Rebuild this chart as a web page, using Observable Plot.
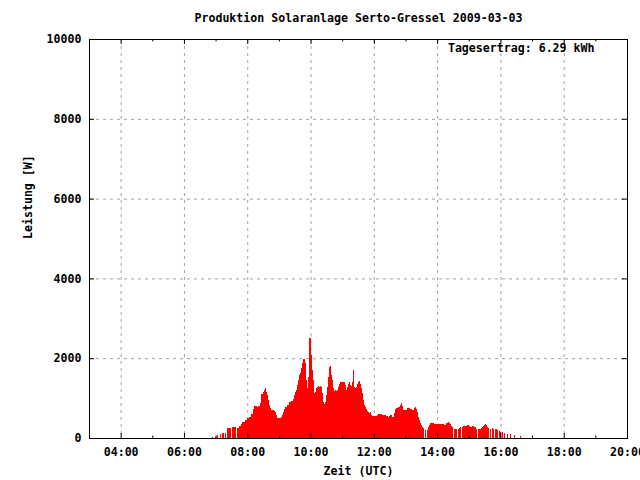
<!DOCTYPE html>
<html><head><meta charset="utf-8">
<script src="https://cdn.jsdelivr.net/npm/d3@7"></script>
<script src="https://cdn.jsdelivr.net/npm/@observablehq/plot@0.6"></script>
<style>html,body{margin:0;padding:0;background:#fff}</style>
</head><body><div id="chart"></div>
<script>
const title = "Produktion Solaranlage Serto-Gressel 2009-03-03";
const note = "Tagesertrag: 6.29 kWh";
const xLabel = "Zeit (UTC)";
const yLabel = "Leistung [W]";
const xTickLabels = ["04:00","06:00","08:00","10:00","12:00","14:00","16:00","18:00","20:00"];
const minorHours = [5,7,9,11,13,15,17,19];
const yTicks = [0,2000,4000,6000,8000,10000];
const gridY = [2000,4000,6000,8000];

// time of reading (minutes after midnight UTC), power held until the next reading
const minutes = [
 414,416,418,420,422,424,428,430,433,435,
 437,439,441,449,451,458,460,464,468,471,
 475,479,483,487,490,492,498,500,504,506,
 507,509,511,513,515,517,519,521,523,525,
 530,532,534,536,544,545,547,549,551,555,
 559,563,566,568,570,572,574,576,578,580,
 582,583,585,589,591,593,595,597,599,601,
 602,604,606,608,610,612,614,616,618,620,
 621,623,625,627,629,631,633,635,637,639,
 640,642,644,646,648,650,652,654,656,665,
 667,669,671,673,675,676,678,680,682,684,
 686,688,690,692,694,695,697,699,701,703,
 705,707,709,711,713,714,716,726,728,735,
 743,747,749,751,754,758,760,762,766,770,
 771,773,775,783,789,792,796,798,800,802,
 804,806,807,809,811,813,815,817,819,821,
 823,825,826,828,834,853,857,861,863,864,
 866,868,870,872,878,880,882,883,885,887,
 889,897,901,902,906,910,914,916,918,923,
 925,927,929,931,933,935,937,939,940,942,
 944,946,948,950,954,956,957,959,961,963,
 965,967,969,973,975,978,980,986,988,997,
 999];
const watts = [
 25,0,35,0,70,0,100,0,135,0,
 135,0,250,0,265,0,250,300,350,400,
 450,500,525,600,725,800,775,800,875,1000,
 1095,1160,1205,1245,1160,1080,950,825,760,700,
 675,645,575,510,535,575,645,725,785,825,
 895,925,975,1080,1160,1205,1330,1455,1580,1620,
 1745,1870,1970,1870,1455,1245,1535,2515,2500,2080,
 1705,1455,1120,1160,1245,1280,1305,1280,1310,1285,
 1120,910,845,910,1080,1285,1535,1785,1805,1580,
 1455,1245,1180,1205,1180,1205,1285,1345,1395,1330,
 1205,1285,1345,1395,1330,1305,1395,1705,1285,1260,
 1285,1345,1410,1430,1345,1245,1120,950,825,785,
 725,675,645,620,645,575,550,575,600,585,
 560,535,550,570,535,620,720,760,785,825,
 870,810,700,750,735,700,750,770,720,650,
 535,450,370,325,285,245,0,200,0,200,
 285,325,370,385,350,325,385,400,385,350,
 300,270,0,235,0,235,250,275,0,275,
 295,320,295,275,295,275,235,0,225,250,
 275,310,335,350,325,285,245,0,225,0,
 250,225,0,225,200,0,185,160,0,160,
 0,135,0,110,0,100,0,75,0,50,
 0];

const toMin = s => +s.slice(0,2) * 60 + +s.slice(3);
const data = minutes.map((m, i) => ({m, w: watts[i]}));
const majorX = xTickLabels.map(toMin);
const minorX = minorHours.map(h => h * 60);
const xDomain = [180, 1200];
const yDomain = [0, 10000];
const majLenY = 125, minLenY = 62;       // tick lengths in W
const majLenX = 9.5;                       // tick length in minutes
const grid = {stroke: "#a0a0a0", strokeDasharray: "3,4", strokeWidth: 1};

const chart = Plot.plot({
  width: 640, height: 480,
  marginLeft: 89, marginRight: 13, marginTop: 39, marginBottom: 42,
  style: {fontFamily: "'DejaVu Sans Mono', monospace", fontSize: "11.6px", fontWeight: "bold", color: "#000", background: "#fff"},
  x: {domain: xDomain},
  y: {domain: yDomain},
  marks: [
    Plot.ruleX(majorX.filter(m => m < xDomain[1]), grid),
    Plot.ruleY(gridY, grid),
    Plot.areaY(data, {x: "m", y: "w", curve: "step-after", fill: "#ff0000", shapeRendering: "crispEdges"}),
    Plot.ruleX(majorX, {y1: 0, y2: majLenY, stroke: "#000"}),
    Plot.ruleX(majorX, {y1: yDomain[1] - majLenY, y2: yDomain[1], stroke: "#000"}),
    Plot.ruleX(minorX, {y1: 0, y2: minLenY, stroke: "#000"}),
    Plot.ruleX(minorX, {y1: yDomain[1] - minLenY, y2: yDomain[1], stroke: "#000"}),
    Plot.ruleY(yTicks, {x1: xDomain[0], x2: xDomain[0] + majLenX, stroke: "#000"}),
    Plot.ruleY(yTicks, {x1: xDomain[1] - majLenX, x2: xDomain[1], stroke: "#000"}),
    Plot.frame({stroke: "#000", strokeWidth: 1}),
    Plot.axisX({ticks: majorX, tickFormat: (d, i) => xTickLabels[majorX.indexOf(d)], tickSize: 0, tickPadding: 9, label: null}),
    Plot.axisY({ticks: yTicks, tickFormat: d => String(d), tickSize: 0, tickPadding: 8, label: null}),
    Plot.text([title], {frameAnchor: "top", dy: -21, lineAnchor: "middle"}),
    Plot.text([note], {frameAnchor: "top-right", dx: -33, dy: 9, textAnchor: "end", lineAnchor: "middle"}),
    Plot.text([xLabel], {frameAnchor: "bottom", dy: 33, lineAnchor: "middle"}),
    Plot.text([yLabel], {frameAnchor: "left", dx: -61, rotate: -90, lineAnchor: "middle"})
  ]
});
document.getElementById("chart").appendChild(chart);
</script>
</body></html>
